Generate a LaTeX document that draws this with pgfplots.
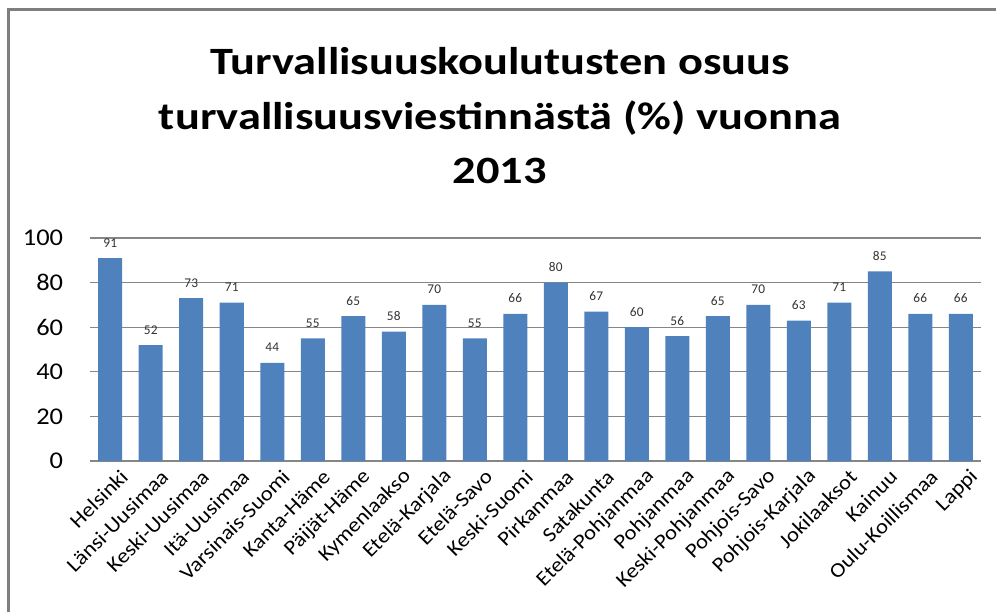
\documentclass[border=0pt]{standalone}
\usepackage{pgfplots}
\pgfplotsset{compat=1.18}
\usepackage{fontspec}
\setmainfont{Carlito}
\newfontfamily\titlefont[UprightFont=* Bold, FakeStretch=1.2]{Carlito}
\newfontfamily\tickfont[FakeStretch=1.1]{Carlito}
\definecolor{barblue}{HTML}{4F81BD}
\definecolor{gridgray}{HTML}{868686}
\definecolor{framegray}{HTML}{7F7F7F}
\begin{document}
\begin{tikzpicture}
\useasboundingbox (-67.5pt,-113.25pt) rectangle (679.5pt,345.75pt);
\fill[framegray] (-62pt,-113.25pt) rectangle (-59.75pt,340pt);
\fill[framegray] (-62pt,337.5pt) rectangle (679.5pt,340pt);
\begin{axis}[
  at={(0,0)}, anchor=south west,
  scale only axis, width=668.25pt, height=167.25pt,
  ymin=0, ymax=100, ytick={0,20,40,60,80,100},
  xmin=-0.5, xmax=21.5,
  xtick={0,...,21},
  xticklabels={Helsinki,Länsi-Uusimaa,Keski-Uusimaa,Itä-Uusimaa,Varsinais-Suomi,Kanta-Häme,Päijät-Häme,Kymenlaakso,Etelä-Karjala,Etelä-Savo,Keski-Suomi,Pirkanmaa,Satakunta,Etelä-Pohjanmaa,Pohjanmaa,Keski-Pohjanmaa,Pohjois-Savo,Pohjois-Karjala,Jokilaaksot,Kainuu,Oulu-Koillismaa,Lappi},
  xticklabel style={rotate=45, anchor=east, inner sep=0pt, font=\tickfont\fontsize{15.5}{16}\selectfont, xshift=1pt, yshift=-14pt},
  yticklabel style={font=\tickfont\fontsize{18}{20}\selectfont, inner sep=0pt, xshift=-20pt},
  /pgf/number format/assume math mode=true,
  major tick length=0pt,
  ymajorgrids, grid style={gridgray, line width=1pt},
  axis x line*=bottom, axis y line*=left,
  y axis line style={draw=none},
  x axis line style={gridgray, line width=1pt, -},
  ybar, bar width=18pt,
  nodes near coords,
  every node near coord/.append style={font=\fontsize{10}{11}\selectfont, text=black!80, anchor=south, inner sep=0pt, yshift=8pt},
  clip=false,
  title={Turvallisuuskoulutusten osuus\\turvallisuusviestinnästä (\%) vuonna\\2013},
  title style={at={(0.46,1.512)}, anchor=center, align=center, font=\titlefont\fontsize{29}{41}\selectfont},
]
\addplot[fill=barblue, draw=none] coordinates {
(0,91) (1,52) (2,73) (3,71) (4,44) (5,55) (6,65) (7,58) (8,70) (9,55) (10,66)
(11,80) (12,67) (13,60) (14,56) (15,65) (16,70) (17,63) (18,71) (19,85) (20,66) (21,66)
};
\end{axis}
\end{tikzpicture}
\end{document}
